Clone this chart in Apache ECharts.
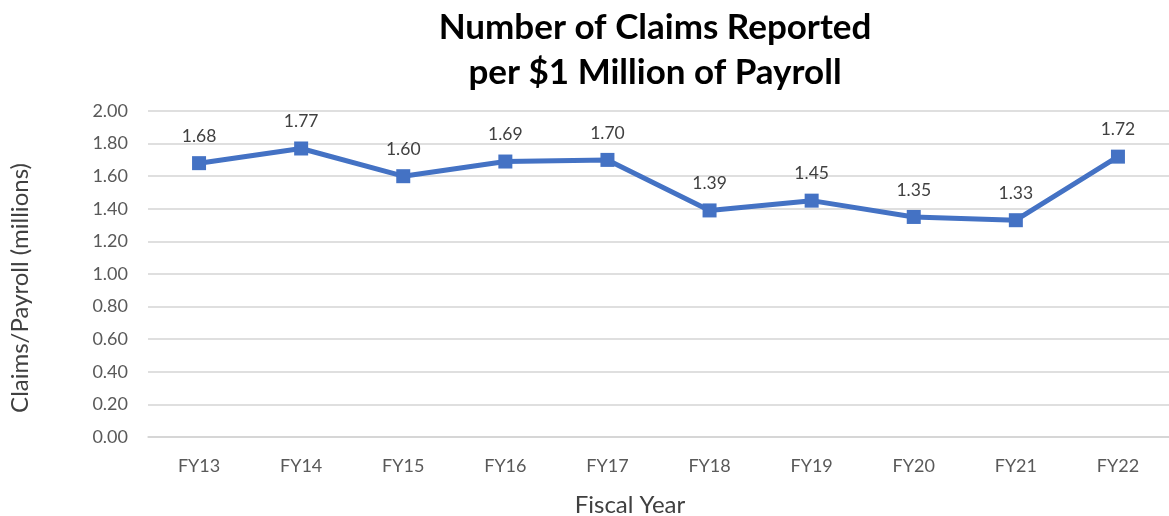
<!DOCTYPE html>
<html lang="en">
<head>
    <meta charset="UTF-8">
    <title>Claims per $1 Million of Payroll</title>
    <style>
        html, body { margin: 0; padding: 0; background: #fff; }
    </style>
</head>
<body>
<div id="chart" style="width:1169px; height:516px;"></div>
<script src="https://cdn.jsdelivr.net/npm/echarts@6/dist/echarts.min.js"></script>
<script>
    // data
    var years = ['FY13', 'FY14', 'FY15', 'FY16', 'FY17', 'FY18', 'FY19', 'FY20', 'FY21', 'FY22']
    var claimsPerMillion = [1.68, 1.77, 1.60, 1.69, 1.70, 1.39, 1.45, 1.35, 1.33, 1.72]
    var yMin = 0
    var yMax = 2
    var yStep = 0.2

    var font = 'Lato, "Open Sans", sans-serif'

    var chart = echarts.init(document.getElementById('chart'))
    chart.setOption({
        animation: false,
        title: {
            text: 'Number of Claims Reported\nper $1 Million of Payroll',
            left: 650,
            top: 0,
            textAlign: 'center',
            textStyle: {
                fontFamily: font,
                fontSize: 35,
                fontWeight: 'bold',
                color: '#000',
                lineHeight: 45
            }
        },
        graphic: [
            {
                type: 'text',
                x: 20,
                y: 288,
                rotation: Math.PI / 2,
                style: {
                    text: 'Claims/Payroll (millions)',
                    font: '24px ' + font,
                    fill: '#404040',
                    align: 'center',
                    verticalAlign: 'middle'
                }
            },
            {
                type: 'text',
                x: 630,
                y: 505,
                style: {
                    text: 'Fiscal Year',
                    font: '24px ' + font,
                    fill: '#404040',
                    align: 'center',
                    verticalAlign: 'middle'
                }
            }
        ],
        grid: {
            left: 148,
            right: -4,
            top: 111,
            bottom: 79,
            containLabel: false
        },
        xAxis: {
            type: 'category',
            data: years,
            boundaryGap: true,
            axisLine: { show: true, lineStyle: { color: '#d4d4d4', width: 1.5 } },
            axisTick: { show: false },
            axisLabel: {
                margin: 20,
                fontFamily: font,
                fontSize: 18,
                color: '#595959'
            }
        },
        yAxis: {
            type: 'value',
            min: yMin,
            max: yMax,
            interval: yStep,
            axisLine: { show: false },
            axisTick: { show: false },
            axisLabel: {
                margin: 20,
                fontFamily: font,
                fontSize: 18,
                color: '#595959',
                formatter: function (v) { return v.toFixed(2) }
            },
            splitLine: { lineStyle: { color: '#d4d4d4', width: 1.5 } }
        },
        series: [
            {
                type: 'line',
                data: claimsPerMillion,
                symbol: 'rect',
                symbolSize: 14,
                lineStyle: { color: '#4472C4', width: 5 },
                itemStyle: { color: '#4472C4' },
                label: {
                    show: true,
                    position: 'top',
                    distance: 11,
                    fontFamily: font,
                    fontSize: 17.5,
                    color: '#404040',
                    formatter: function (p) { return p.value.toFixed(2) }
                }
            }
        ]
    })
</script>
</body>
</html>
